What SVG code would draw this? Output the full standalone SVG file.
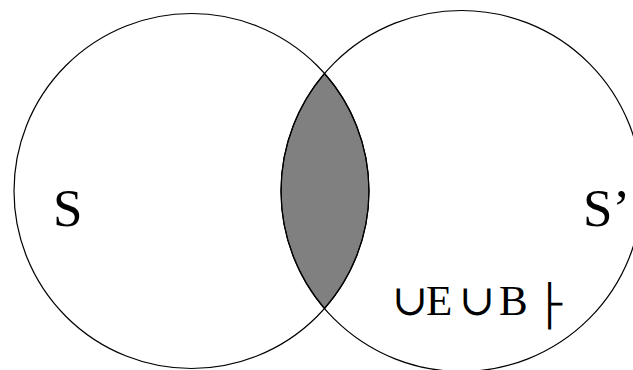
<svg xmlns="http://www.w3.org/2000/svg" width="633" height="370" viewBox="0 0 633 370">
<style>
.c{fill:none;stroke:#000;stroke-width:1.2}
.t{font-family:"Liberation Serif","DejaVu Serif",serif;fill:#000}
</style>
<rect width="633" height="370" fill="#fff"/>
<g id="lens"><path d="M324.5,73.5 A177.5,177.5 0 0 1 324.5,308.5 A180.5,180.5 0 0 1 324.5,73.5 Z" fill="#808080" stroke="#000" stroke-width="1.2"/></g>
<g id="setS"><circle class="c" cx="191.5" cy="191" r="177.5"/><text class="t" x="53" y="226" font-size="53">S</text></g>
<g id="setS2"><circle class="c" cx="461.5" cy="191" r="180.5"/><text class="t" x="583" y="226" font-size="53">S’</text></g>
<g id="formula"><text class="t" y="315" font-size="43"><tspan x="392">∪</tspan><tspan x="426">E</tspan><tspan x="459">∪</tspan><tspan x="499">B</tspan><tspan x="537" font-family="'Liberation Mono','DejaVu Sans Mono',monospace" font-size="42" dy="2">├</tspan></text></g>
</svg>
